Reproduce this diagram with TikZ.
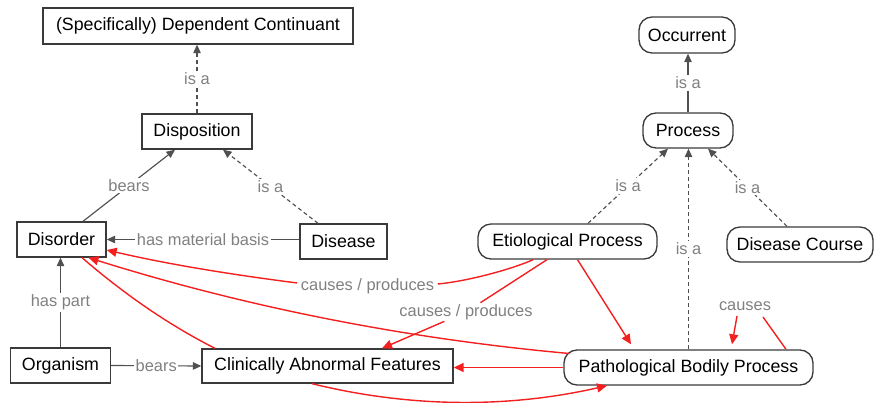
\documentclass[tikz,border=0pt]{standalone}
\usepackage{fontspec}
\setmainfont{Liberation Sans}
\usetikzlibrary{arrows.meta,calc}
\definecolor{boxc}{HTML}{3A3A3A}
\definecolor{linec}{HTML}{505050}
\definecolor{labc}{HTML}{808080}
\definecolor{redc}{HTML}{F42020}
\tikzset{
  cont/.style={draw=boxc, line width=1.35pt, minimum height=35pt, inner sep=0pt,
    font=\fontsize{17.8pt}{20pt}\selectfont, text=black},
  occ/.style={cont, rounded corners=13pt},
  lab/.style={fill=white, inner sep=1.5pt, font=\fontsize{16.4pt}{18pt}\selectfont, text=labc},
  gline/.style={draw=linec, line width=1.15pt},
  garrow/.style={gline, -{Triangle[length=8.5pt,width=7.5pt]}},
  gdash/.style={garrow, dash pattern=on 4pt off 3pt},
  rline/.style={draw=redc, line width=1.4pt},
  rarrow/.style={rline, -{Triangle[length=10pt,width=9pt]}},
}
\begin{document}
\begin{tikzpicture}[x=1pt,y=-1pt]
\useasboundingbox (0,0) rectangle (874,403);
% continuants
\node[cont, minimum width=310pt, minimum height=36pt] (sdc) at (198,26) {(Specifically) Dependent Continuant};
\node[cont, minimum width=110pt] (disp) at (197,131.5) {Disposition};
\node[cont, minimum width=89pt] (disorder) at (61.5,239.5) {Disorder};
\node[cont, minimum width=87pt] (disease) at (343.5,241.5) {Disease};
\node[cont, minimum width=100pt] (organism) at (60.5,365.5) {Organism};
\node[cont, minimum width=251pt, minimum height=34pt] (caf) at (327.5,366) {Clinically Abnormal Features};
% occurrents
\node[occ, minimum width=96pt, minimum height=36pt] (occurrent) at (687,35) {Occurrent};
\node[occ, minimum width=90pt] (process) at (688,130.5) {Process};
\node[occ, minimum width=179pt] (etio) at (567.5,241.5) {Etiological Process};
\node[occ, minimum width=146pt] (dc) at (800,244.5) {Disease Course};
\node[occ, minimum width=249pt] (pbp) at (688.5,367.5) {Pathological Bodily Process};
% red link labels
\node[lab] (cp1) at (367.5,286) {causes / produces};
\node[lab] (cp2) at (466,312) {causes / produces};
\node[lab] (cs) at (745,306) {causes};
% gray links
\draw[gdash] (disp.north) -- node[lab]{is a} (disp.north |- sdc.south);
\draw[garrow] ($(disorder.north)+(21.5,0)$) -- node[lab]{bears} ($(disp.south)+(-22,0)$);
\draw[gdash] ($(disease.north)+(-25.5,0)$) -- node[lab]{is a} ($(disp.south)+(26,0)$);
\draw[garrow] ($(disease.west)+(0,-2)$) -- node[lab]{has material basis} (disorder.east);
\draw[garrow] (organism.north) -- node[lab]{has part} (organism.north |- disorder.south);
\draw[garrow] (organism.east) -- node[lab]{bears} (caf.west);
\draw[garrow] (process.north) -- node[lab]{is a} (process.north |- occurrent.south);
\draw[gdash] ($(etio.north)+(20.5,0)$) -- node[lab]{is a} ($(process.south)+(-20,0)$);
\draw[gdash] ($(dc.north)+(-13,0)$) -- node[lab]{is a} ($(process.south)+(20,0)$);
\draw[gdash] (pbp.north) -- node[lab]{is a} (pbp.north |- process.south);
% red links
\draw[rline] ($(etio.south)+(-34.5,0)$) .. controls (515,268) and (470,281) .. ($(cp1.east)+(2,-2)$);
\draw[rarrow] ($(cp1.west)+(-2,-3)$) .. controls (235,275) and (171,265) .. ($(disorder.east)+(0,10.5)$);
\draw[rline] ($(etio.south)+(-20.5,0)$) -- (cp2);
\draw[rarrow] (cp2) -- ($(caf.north)+(54.5,0)$);
\draw[rarrow] ($(etio.south)+(10,0)$) -- ($(pbp.north)+(-57.5,-5)$);
\draw[rarrow] (pbp.west) -- (pbp.west -| caf.east);
\draw[rarrow] ($(pbp.west)+(6,-14)$) .. controls (409,339) and (249,308) .. ($(disorder.south)+(27,0)$);
\draw[rline] ($(caf.north)+(-112.5,0)$) .. controls (167,324) and (123,293) .. ($(disorder.south)+(20.5,0)$);
\draw[rarrow] ($(caf.south)+(-15.5,0)$) .. controls (411,408) and (509,408) .. ($(pbp.south)+(-81.5,0)$);
\draw[rline] ($(pbp.north)+(97.5,0)$) -- ($(cs)+(18,11)$);
\draw[rarrow] ($(cs)+(-8,10)$) -- ($(pbp.north)+(43.5,-5)$);
\end{tikzpicture}
\end{document}
